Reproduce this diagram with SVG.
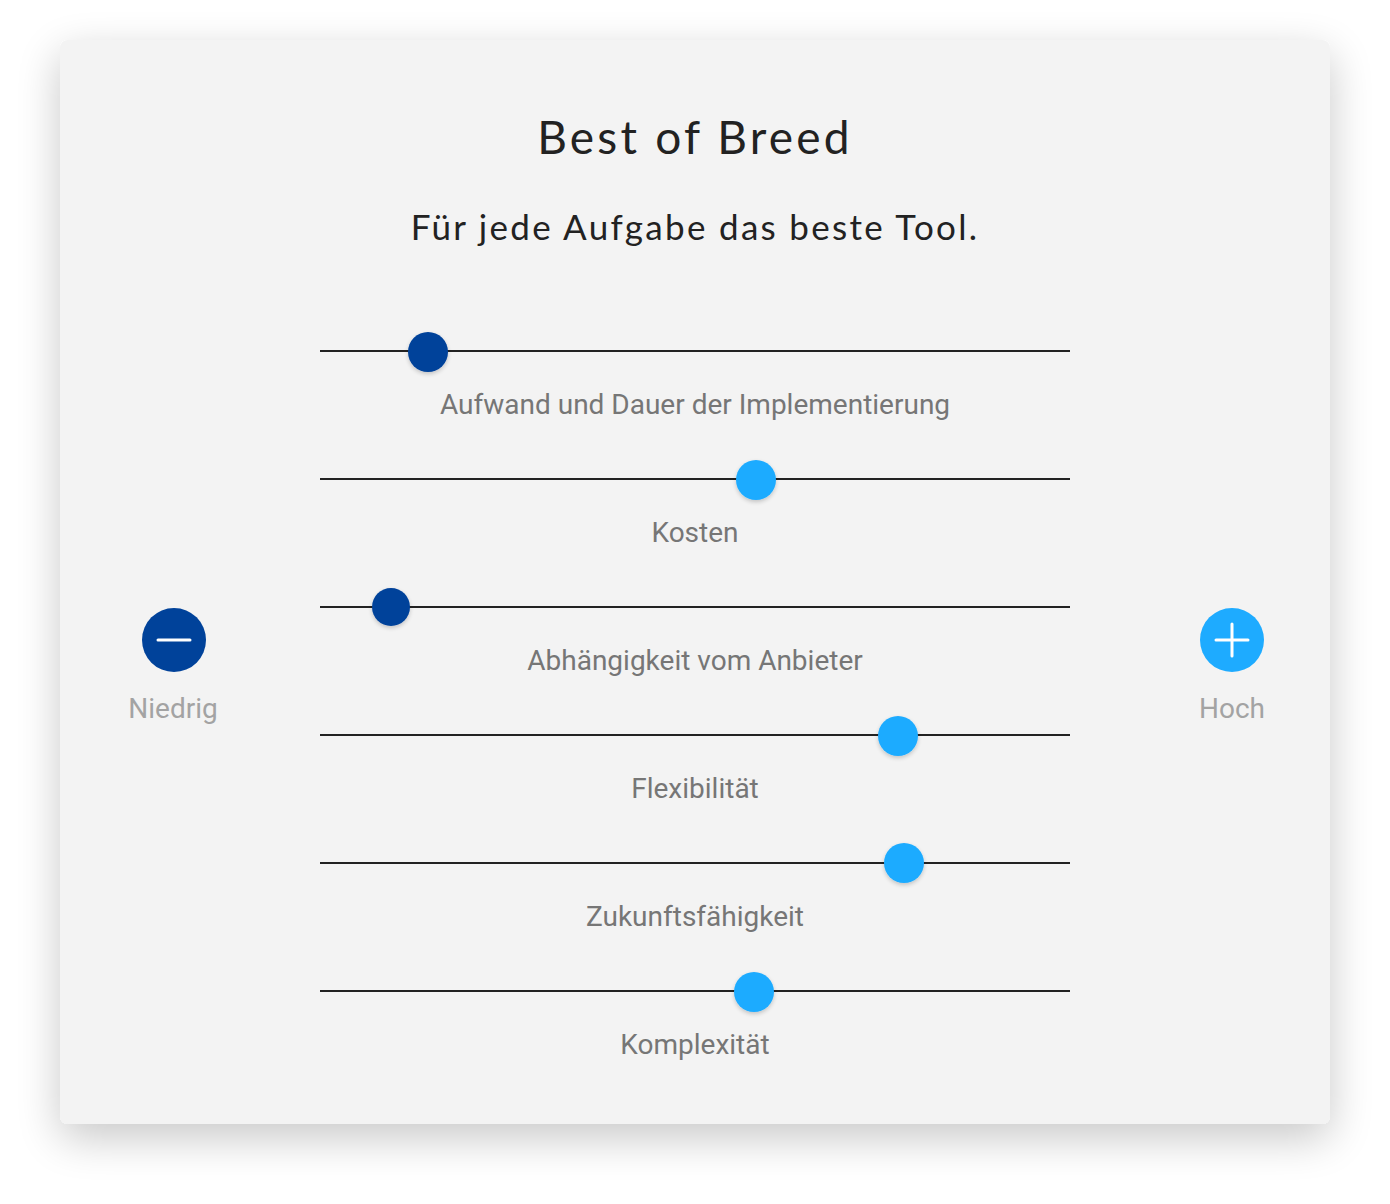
<svg xmlns="http://www.w3.org/2000/svg" width="1390" height="1204" viewBox="0 0 1390 1204">
<defs>
<filter id="cardShadow" x="-10%" y="-10%" width="120%" height="125%">
<feGaussianBlur in="SourceAlpha" stdDeviation="22"/>
<feOffset dy="14" result="b"/>
<feComponentTransfer><feFuncA type="linear" slope="0.22"/></feComponentTransfer>
<feMerge><feMergeNode/><feMergeNode in="SourceGraphic"/></feMerge>
</filter>
<filter id="knobShadow" x="-50%" y="-50%" width="200%" height="200%">
<feGaussianBlur in="SourceAlpha" stdDeviation="2"/>
<feOffset dy="2"/>
<feComponentTransfer><feFuncA type="linear" slope="0.2"/></feComponentTransfer>
<feMerge><feMergeNode/><feMergeNode in="SourceGraphic"/></feMerge>
</filter>
<style>
.title{font-family:Lato,"Open Sans",sans-serif;fill:#222;text-anchor:middle}
.lbl{font-family:Roboto,"Liberation Sans",sans-serif;font-size:28px;fill:#767676;text-anchor:middle}
.end{font-family:Roboto,"Liberation Sans",sans-serif;font-size:28px;fill:#a3a3a3;text-anchor:middle}
.track{stroke:#222;stroke-width:2}
.dark{fill:#00429a}
.light{fill:#1eabff}
</style>
</defs>
<rect width="1390" height="1204" fill="#ffffff"/>
<rect x="60" y="40" width="1270" height="1084" rx="8" fill="#f3f3f3" filter="url(#cardShadow)"/>
<g id="title"><text class="title" x="695" y="154" font-size="46" letter-spacing="3.2">Best of Breed</text></g>
<g id="subtitle"><text class="title" x="695" y="240" font-size="35" letter-spacing="2.3">Für jede Aufgabe das beste Tool.</text></g>
<g id="connectors">
<line class="track" x1="320" y1="351" x2="1070" y2="351"/>
<line class="track" x1="320" y1="479" x2="1070" y2="479"/>
<line class="track" x1="320" y1="607" x2="1070" y2="607"/>
<line class="track" x1="320" y1="735" x2="1070" y2="735"/>
<line class="track" x1="320" y1="863" x2="1070" y2="863"/>
<line class="track" x1="320" y1="991" x2="1070" y2="991"/>
</g>
<g id="slider1"><circle class="dark" cx="428" cy="352" r="20" filter="url(#knobShadow)"/><text class="lbl" x="695" y="414">Aufwand und Dauer der Implementierung</text></g>
<g id="slider2"><circle class="light" cx="756" cy="480" r="20" filter="url(#knobShadow)"/><text class="lbl" x="695" y="542">Kosten</text></g>
<g id="slider3"><circle class="dark" cx="391" cy="607" r="19" filter="url(#knobShadow)"/><text class="lbl" x="695" y="670">Abhängigkeit vom Anbieter</text></g>
<g id="slider4"><circle class="light" cx="898" cy="736" r="20" filter="url(#knobShadow)"/><text class="lbl" x="695" y="798">Flexibilität</text></g>
<g id="slider5"><circle class="light" cx="904" cy="863" r="20" filter="url(#knobShadow)"/><text class="lbl" x="695" y="926">Zukunftsfähigkeit</text></g>
<g id="slider6"><circle class="light" cx="754" cy="992" r="20" filter="url(#knobShadow)"/><text class="lbl" x="695" y="1054">Komplexität</text></g>
<g id="low"><circle class="dark" cx="174" cy="640" r="32"/><line x1="158" y1="640" x2="190" y2="640" stroke="#fff" stroke-width="3" stroke-linecap="round"/><text class="end" x="173" y="718">Niedrig</text></g>
<g id="high"><circle class="light" cx="1232" cy="640" r="32"/><line x1="1216" y1="640" x2="1248" y2="640" stroke="#fff" stroke-width="3" stroke-linecap="round"/><line x1="1232" y1="624" x2="1232" y2="656" stroke="#fff" stroke-width="3" stroke-linecap="round"/><text class="end" x="1232" y="718">Hoch</text></g>
</svg>
